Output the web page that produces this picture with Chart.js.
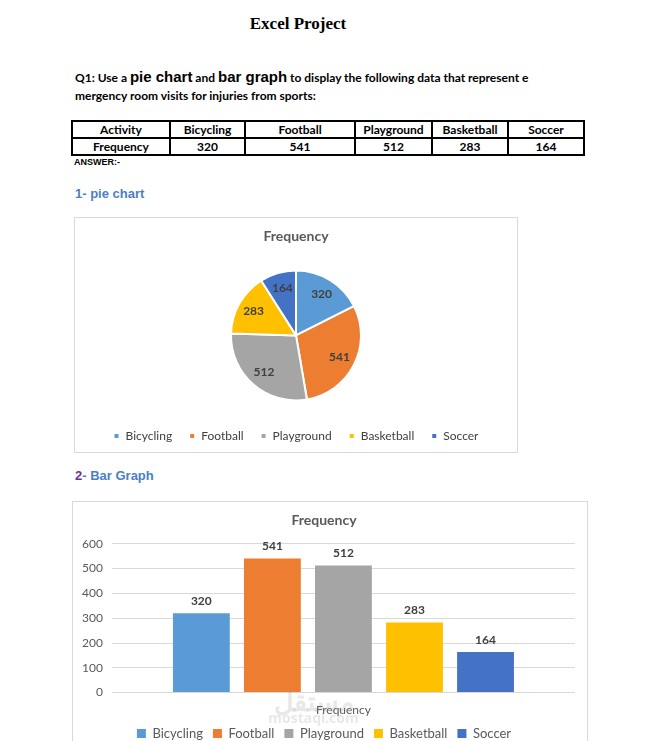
<!DOCTYPE html>
<html>
<head>
<meta charset="utf-8">
<script src="https://cdn.jsdelivr.net/npm/chart.js@4.4.1/dist/chart.umd.min.js"></script>
<style>
  html, body { margin: 0; padding: 0; background: #fff; }
  body { width: 651px; height: 741px; position: relative; overflow: hidden; }
  .abs { position: absolute; }
  #title { left: 0; width: 596px; top: 14px; text-align: center; font: bold 17px "Liberation Serif", serif; color: #000; }
  .q { left: 75px; font: bold 12px Lato, sans-serif; color: #000; white-space: nowrap; }
  .q b { font: bold 15px "Liberation Sans", Arial, sans-serif; }
  table { position: absolute; left: 71px; top: 120px; width: 512px; table-layout: fixed; border-collapse: collapse; font: bold 12px Lato, sans-serif; }
  td { border: 2px solid #000; height: 15px; padding: 0; text-align: center; line-height: 14px; }
  #answer { left: 74px; top: 157px; font: bold 9px "Liberation Sans", Arial, sans-serif; }
  .h { left: 75px; font: bold 13px "Liberation Sans", Arial, sans-serif; color: #4a7fc1; }
  .box { position: absolute; border: 1px solid #d9d9d9; background: #fff; }
  .wm { left: 0; width: 651px; text-align: center; color: rgba(150,150,150,0.22); font: bold 22px "Noto Sans", sans-serif; }
</style>
</head>
<body>
<div id="title" class="abs">Excel Project</div>
<div class="abs q" style="top:68px">Q1: Use a <b>pie chart</b> and <b>bar graph</b> to display the following data that represent e</div>
<div class="abs q" style="top:88px">mergency room visits for injuries from sports:</div>
<table>
  <colgroup><col style="width:98px"><col style="width:75px"><col style="width:110px"><col style="width:77px"><col style="width:76px"><col style="width:76px"></colgroup>
  <tr><td>Activity</td><td>Bicycling</td><td>Football</td><td>Playground</td><td>Basketball</td><td>Soccer</td></tr>
  <tr><td>Frequency</td><td>320</td><td>541</td><td>512</td><td>283</td><td>164</td></tr>
</table>
<div id="answer" class="abs">ANSWER:-</div>
<div class="abs h" style="top:186px">1- pie chart</div>
<div class="box" style="left:74px; top:217px; width:442px; height:234px;">
  <canvas id="pieChart"></canvas>
</div>
<div class="abs h" style="top:468px"><span style="color:#7030a0">2</span>- Bar Graph</div>
<div class="box" style="left:72px; top:501px; width:514px; height:300px;">
  <div style="position:relative; width:514px; height:248px;"><canvas id="barChart"></canvas></div>
</div>
<div class="abs wm" style="top:682px; left:-12px; font-size:27px">مستقل</div>
<div class="abs wm" style="top:708px; left:-12px; font-size:14px">mostaql.com</div>

<script>
const activities = ['Bicycling', 'Football', 'Playground', 'Basketball', 'Soccer'];
const frequency = [320, 541, 512, 283, 164];
const colors = ['#5b9bd5', '#ed7d31', '#a5a5a5', '#ffc000', '#4472c4'];
const yTicks = [0, 100, 200, 300, 400, 500, 600];

const gray = '#595959';
const font = 'Lato, sans-serif';

// draws the value of every mark, pie slices at 3/4 of the radius, bars above the top
const valueLabels = {
  id: 'valueLabels',
  afterDatasetsDraw(chart) {
    const ctx = chart.ctx;
    ctx.save();
    ctx.font = 'bold 12px ' + font;
    ctx.fillStyle = '#404040';
    ctx.textAlign = 'center';
    ctx.textBaseline = 'middle';
    chart.data.datasets.forEach((ds, i) => {
      chart.getDatasetMeta(i).data.forEach((el, j) => {
        let x, y;
        if (chart.config.type === 'pie') {
          const p = el.getProps(['startAngle', 'endAngle', 'outerRadius', 'x', 'y'], true);
          const mid = (p.startAngle + p.endAngle) / 2;
          x = p.x + Math.cos(mid) * p.outerRadius * 0.75;
          y = p.y + Math.sin(mid) * p.outerRadius * 0.75;
        } else {
          x = el.x;
          y = el.y - 12;
        }
        ctx.fillText(ds.data[j], x, y);
      });
    });
    ctx.restore();
  }
};

new Chart(document.getElementById('pieChart'), {
  type: 'pie',
  data: {
    labels: activities,
    datasets: [{ data: frequency, backgroundColor: colors, borderColor: '#fff', borderWidth: 2, radius: 65 }]
  },
  options: {
    responsive: true, maintainAspectRatio: false, animation: false,
    layout: { padding: 0 },
    plugins: {
      title: { display: true, text: 'Frequency', color: gray, font: { family: font, size: 14, weight: 'bold' }, padding: { top: 10, bottom: 13 } },
      legend: { position: 'bottom', labels: { color: '#404040', boxWidth: 6, boxHeight: 6, padding: 17, font: { family: font, size: 12 } } },
      tooltip: { enabled: false }
    }
  },
  plugins: [valueLabels]
});

new Chart(document.getElementById('barChart'), {
  type: 'bar',
  data: {
    labels: ['Frequency'],
    datasets: activities.map((a, i) => ({ label: a, data: [frequency[i]], backgroundColor: colors[i] }))
  },
  options: {
    responsive: true, maintainAspectRatio: false, animation: false,
    categoryPercentage: 0.767, barPercentage: 0.8,
    layout: { padding: { left: 0, right: 12 } },
    scales: {
      x: {
        grid: { display: false, drawTicks: false }, border: { display: false },
        ticks: { color: gray, padding: 10, font: { family: font, size: 12 } },
        afterFit: s => { s.height -= 10; }
      },
      y: {
        min: 0, max: 600,
        afterBuildTicks: s => { s.ticks = yTicks.map(v => ({ value: v })); },
        grid: { color: '#d9d9d9', drawTicks: false }, border: { display: false },
        ticks: { color: gray, padding: 9, font: { family: font, size: 12 } }
      }
    },
    plugins: {
      title: { display: true, text: 'Frequency', color: gray, font: { family: font, size: 14, weight: 'bold' }, padding: { top: 10, bottom: 15 } },
      legend: { position: 'bottom', labels: { color: gray, boxWidth: 9, boxHeight: 9, padding: 10, font: { family: font, size: 13 } } },
      tooltip: { enabled: false }
    }
  },
  plugins: [valueLabels]
});
</script>
</body>
</html>
